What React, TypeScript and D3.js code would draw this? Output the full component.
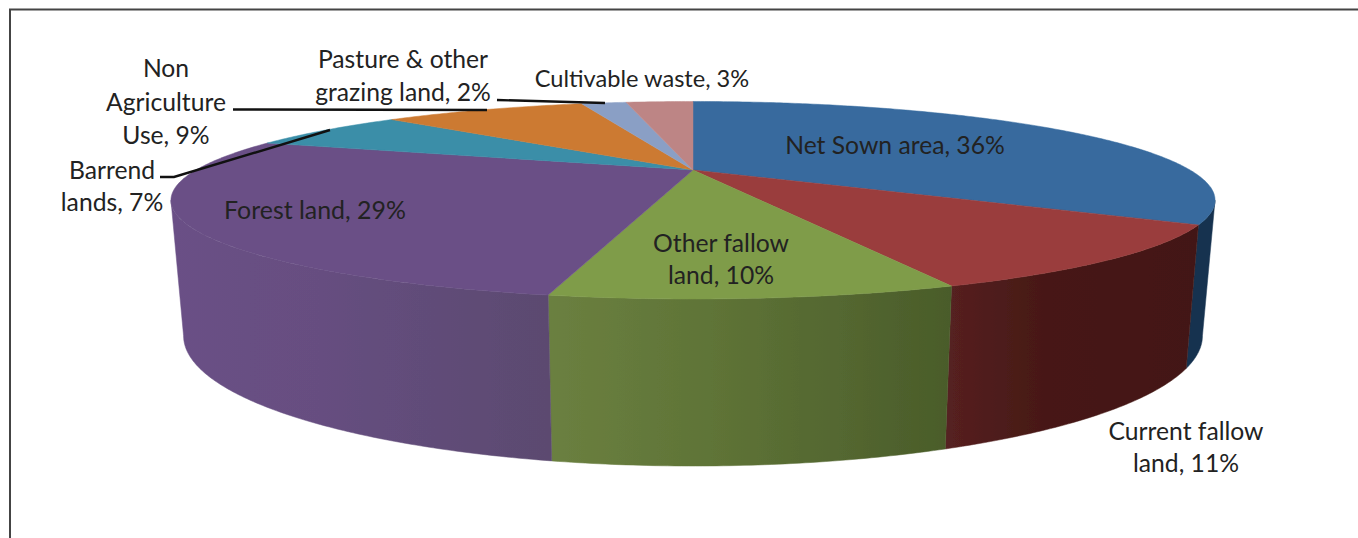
import React from "react";
import * as d3 from "d3";

const categories = ["Net Sown area", "Current fallow land", "Other fallow land", "Forest land", "Barrend lands", "Non Agriculture Use", "Pasture & other grazing land", "Cultivable waste"];
const values = [36, 11, 10, 29, 7, 9, 2, 3];
const topColors = ["#376a9e", "#9a3d3d", "#7f9c48", "#6a5086", "#3a8ea8", "#cc7a33", "#8a9fc5", "#bd8585"];
const sideFrom = ["#173350", "#552020", "#6b8040", "#6a5086", "#2a6a7c", "#98591f", "#66768f", "#8c6060"];
const sideMid = ["#173350", "#461815", "#5f7437", "#664e80", "#2a6a7c", "#98591f", "#66768f", "#8c6060"];
const sideTo = ["#173350", "#431714", "#4a5c2a", "#5b4a70", "#2a6a7c", "#98591f", "#66768f", "#8c6060"];
const labelLines = [
  ["Net Sown area, 36%"],
  ["Current fallow", "land, 11%"],
  ["Other fallow", "land, 10%"],
  ["Forest land, 29%"],
  ["Barrend", "lands, 7%"],
  ["Non", "Agriculture", "Use, 9%"],
  ["Pasture & other", "grazing land, 2%"],
  ["Cultivable waste, 3%"],
];
const labelX = [895, 1186, 721, 315, 112, 166, 403, 642];
const labelY = [154, 440, 252, 219, 179, 77, 68, 87];
const labelStep = [0, 32, 32, 0, 32, 33.5, 33, 0];
const labelSize = [24.7, 24.7, 24.7, 24.9, 24.7, 24.7, 24.7, 23.6];
const leaders: [number, number][][] = [
  [[160, 177], [174, 177], [330, 130]],
  [[233, 109.5], [487, 110]],
  [[497, 100], [605, 103]],
];

const K = 0.306;
const CX = 693;
const TOP = { y0: 170, a: 89.5, b: 497 };
const BOT = { y0: 296, a: 118, b: 485 };
const project = (t: number, p: { y0: number; a: number; b: number }): [number, number] => {
  const u = Math.sin(t);
  const v = -Math.cos(t);
  const w = 1 - K * v;
  return [CX + (p.b * u) / w, p.y0 + (p.a * v) / w];
};
const sampled = (a: number, b: number) => {
  const n = Math.max(2, Math.ceil(Math.abs(b - a) / 0.01));
  return d3.range(n + 1).map((i) => a + ((b - a) * i) / n);
};
const line = d3.line<[number, number]>();

const WALL_A = Math.PI - Math.acos(K);
const WALL_B = Math.PI + Math.acos(K);

export default function App() {
  const arcs = d3.pie<number>().sort(null).startAngle(0).endAngle(2 * Math.PI)(values);
  const fontFamily = "Lato, 'Open Sans', sans-serif";
  return (
    <svg width={1358} height={538} style={{ position: "absolute", left: 0, top: 0, display: "block", background: "#fff" }}>
      <defs>
        {arcs.map((d, i) => {
          const a = Math.max(d.startAngle, WALL_A);
          const b = Math.min(d.endAngle, WALL_B);
          if (a >= b) return null;
          const x1 = project(a, TOP)[0];
          const x2 = project(b, TOP)[0];
          return (
            <linearGradient key={i} id={`side${i}`} gradientUnits="userSpaceOnUse" x1={Math.min(x1, x2)} x2={Math.max(x1, x2)} y1={0} y2={0}>
              <stop offset="0%" stopColor={sideFrom[i]} />
              <stop offset="40%" stopColor={sideMid[i]} />
              <stop offset="100%" stopColor={sideTo[i]} />
            </linearGradient>
          );
        })}
        <filter id="soft" x="-5%" y="-5%" width="110%" height="110%">
          <feGaussianBlur stdDeviation="0.5" />
        </filter>
      </defs>
      <path d="M10 538V9.5H1358" fill="none" stroke="#444" strokeWidth={2} />
      <g filter="url(#soft)">
        {arcs.map((d, i) => {
          const a = Math.max(d.startAngle, WALL_A);
          const b = Math.min(d.endAngle, WALL_B);
          if (a >= b) return null;
          const ts = sampled(a, b);
          const pts = [...ts.map((t) => project(t, TOP)), ...ts.slice().reverse().map((t) => project(t, BOT))];
          return <path key={i} d={line(pts) + "Z"} fill={`url(#side${i})`} stroke={`url(#side${i})`} strokeWidth={0.5} />;
        })}
        {arcs.map((d, i) => {
          const pts: [number, number][] = [[CX, TOP.y0], ...sampled(d.startAngle, d.endAngle).map((t) => project(t, TOP))];
          return <path key={categories[i]} d={line(pts) + "Z"} fill={topColors[i]} stroke={topColors[i]} strokeWidth={0.5} />;
        })}
      </g>
      {leaders.map((l, i) => (
        <path key={i} d={line(l)!} fill="none" stroke="#111" strokeWidth={2.4} />
      ))}
      <g fontFamily={fontFamily} fill="#222" textAnchor="middle">
        {labelLines.map((ls, i) => (
          <text key={i} x={labelX[i]} y={labelY[i]} fontSize={labelSize[i]}>
            {ls.map((s, j) => (
              <tspan key={j} x={labelX[i]} y={labelY[i] + j * labelStep[i]}>{s}</tspan>
            ))}
          </text>
        ))}
      </g>
    </svg>
  );
}
